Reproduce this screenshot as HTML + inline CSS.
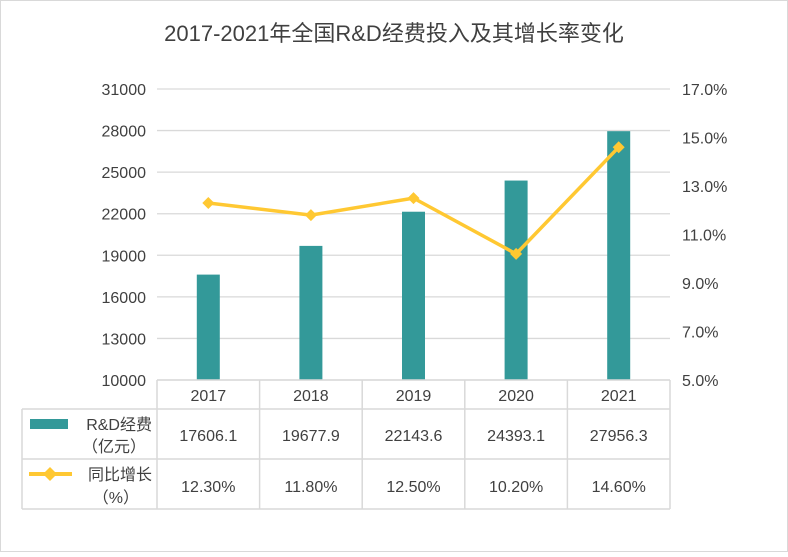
<!DOCTYPE html>
<html><head><meta charset="utf-8">
<style>
body{margin:0;background:#fff;}
svg text{font-family:"Liberation Sans","Noto Sans CJK SC",sans-serif;fill:#404040;}
</style></head><body>
<svg width="788" height="552" viewBox="0 0 788 552" xmlns="http://www.w3.org/2000/svg">
<rect x="0.5" y="0.5" width="787" height="551" fill="#fff" stroke="#d9d9d9"/>
<text x="394" y="41" text-anchor="middle" font-size="22">2017-2021年全国R&amp;D经费投入及其增长率变化</text>
<g id="grid"></g><g id="bars"></g><g id="line"></g><g id="axes"></g><g id="table"></g>
</svg>
<script>
const categories=["2017","2018","2019","2020","2021"];
const rdValues=[17606.1,19677.9,22143.6,24393.1,27956.3];
const growthValues=[12.3,11.8,12.5,10.2,14.6];
const leftTicks=[10000,13000,16000,19000,22000,25000,28000,31000];
const rightTicks=[5,7,9,11,13,15,17];
const rdLabels=["17606.1","19677.9","22143.6","24393.1","27956.3"];
const growthLabels=["12.30%","11.80%","12.50%","10.20%","14.60%"];
const NS="http://www.w3.org/2000/svg";
const X0=157,X1=670,Y0=380,Y1=89;
const n=categories.length,cw=(X1-X0)/n;
const xc=i=>X0+cw*(i+0.5);
const yL=v=>Y0-(v-10000)/(31000-10000)*(Y0-Y1);
const yR=v=>Y0-(v-5)/(17-5)*(Y0-Y1);
function mk(t,a,p){const e=document.createElementNS(NS,t);for(const k in a)e.setAttribute(k,a[k]);p.appendChild(e);return e;}
const grid=document.getElementById('grid'),bars=document.getElementById('bars'),line=document.getElementById('line'),axes=document.getElementById('axes'),table=document.getElementById('table');
leftTicks.forEach(v=>{
 const g=mk('line',{x1:X0,x2:X1,y1:yL(v),y2:yL(v),stroke:'#d9d9d9','stroke-width':1.3},grid);
 
 
 const t=mk('text',{x:146,y:yL(v)+6,'text-anchor':'end','font-size':16},axes);t.textContent=v;
 
 
});
rightTicks.forEach(v=>{
 const t=mk('text',{x:682,y:yR(v)+6,'font-size':16},axes);t.textContent=v.toFixed(1)+'%';
 
 
});
rdValues.forEach((v,i)=>{
 const b=mk('rect',{x:xc(i)-11.5,y:yL(v),width:23,height:Y0-yL(v),fill:'#339999'},bars);
 
 
});
const pts=growthValues.map((v,i)=>xc(i)+','+yR(v)).join(' ');
const pl=mk('polyline',{points:pts,fill:'none',stroke:'#ffc832','stroke-width':3.5,'stroke-linejoin':'round'},line);


growthValues.forEach((v,i)=>{
 const x=xc(i),y=yR(v);
 const m=mk('polygon',{points:`${x},${y-6} ${x+6},${y} ${x},${y+6} ${x-6},${y}`,fill:'#ffc832'},line);
 
 
});
// table
const TL=22,R0=380,R1=409,R2=459,R3=509,st='#d9d9d9';
[[X0,R0,X1,R0],[TL,R1,X1,R1],[TL,R2,X1,R2],[TL,R3,X1,R3],[TL,R1,TL,R3]].forEach(a=>{
 const l=mk('line',{x1:a[0],y1:a[1],x2:a[2],y2:a[3],stroke:st,'stroke-width':1.5},table);
 
 
});
for(let i=0;i<=n;i++){
 const l=mk('line',{x1:X0+cw*i,y1:R0,x2:X0+cw*i,y2:R3,stroke:st,'stroke-width':1.5},table);
 
 
}
categories.forEach((c,i)=>{
 const t=mk('text',{x:xc(i),y:401,'text-anchor':'middle','font-size':16},table);t.textContent=c;
 
 
 const a=mk('text',{x:xc(i),y:441,'text-anchor':'middle','font-size':16},table);a.textContent=rdLabels[i];
 
 
 const b=mk('text',{x:xc(i),y:492,'text-anchor':'middle','font-size':16},table);b.textContent=growthLabels[i];
 
 
});
const lk1=mk('rect',{x:30,y:419,width:38,height:10,fill:'#339999'},table);


const lk2=mk('line',{x1:29,y1:474,x2:72,y2:474,stroke:'#ffc832','stroke-width':4},table);


const lk3=mk('polygon',{points:'50,467 57,474 50,481 43,474',fill:'#ffc832'},table);


[["R&D经费",152,430],["（亿元）",146,452],["同比增长",152,480],["（%）",139,503]].forEach(r=>{
 const t=mk('text',{x:r[1],y:r[2],'text-anchor':'end','font-size':16},table);t.textContent=r[0];
 
 
});
</script>
</body></html>
